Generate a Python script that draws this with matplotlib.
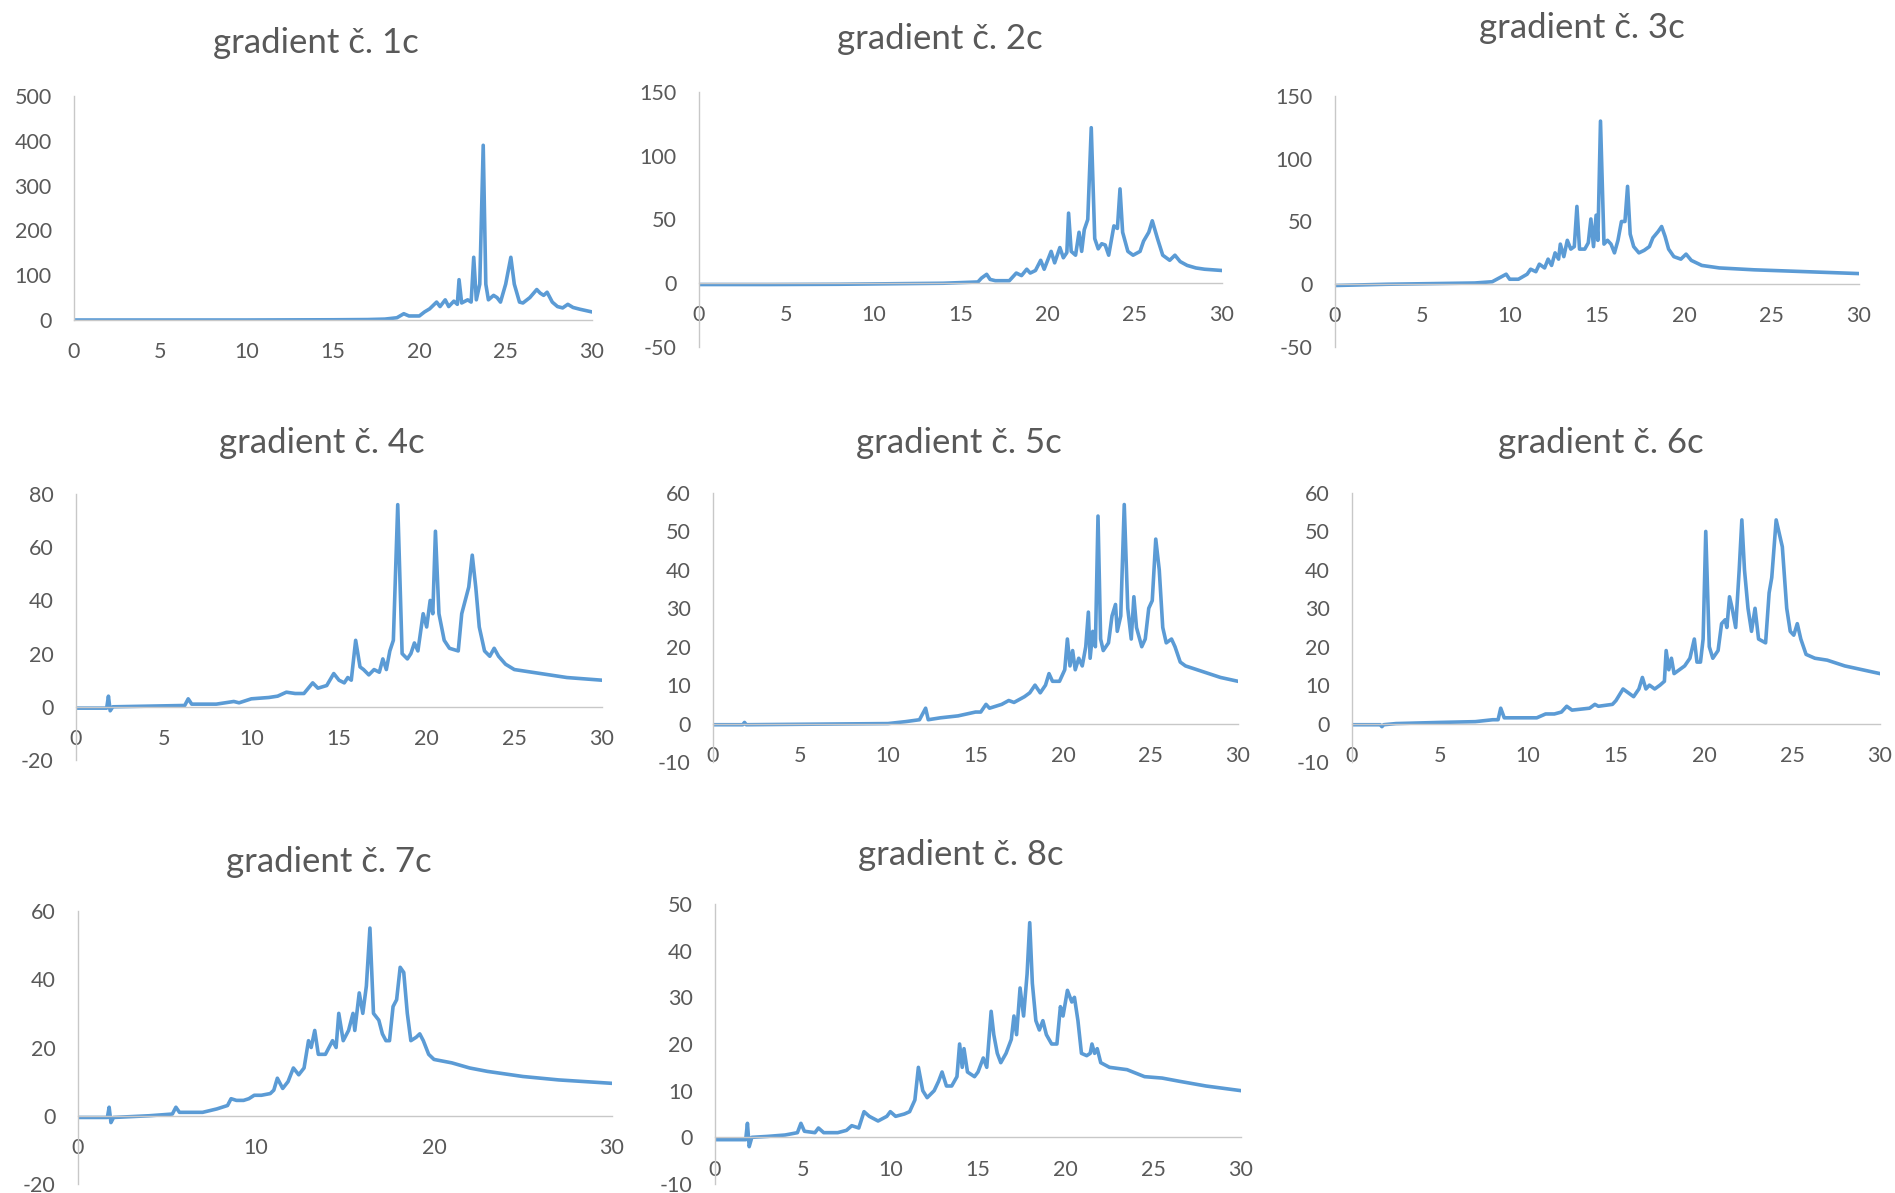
import matplotlib
matplotlib.use("Agg")
import matplotlib.pyplot as plt

plt.rcParams['font.family'] = ['Lato', 'DejaVu Sans']
plt.rcParams['axes.unicode_minus'] = False

# gradient 1c
x1 = [0, 5, 10, 15, 17, 18, 18.7, 19.1, 19.4, 20.0, 20.3, 20.6, 21.0, 21.2, 21.5, 21.7, 22.0, 22.2, 22.3,
      22.45, 22.8, 23.0, 23.15, 23.3, 23.5, 23.7, 23.85, 24.0, 24.3, 24.5, 24.7, 25.0, 25.3, 25.5, 25.8,
      26.0, 26.4, 26.8, 27.0, 27.2, 27.4, 27.7, 28.0, 28.3, 28.6, 28.9, 29.3, 30]
y1 = [0, 0, 0, 0.5, 1, 2, 5, 14, 9, 9, 18, 25, 40, 30, 45, 30, 42, 35, 90,
      38, 45, 40, 140, 45, 80, 390, 80, 45, 55, 50, 40, 80, 140, 80, 40,
      38, 50, 68, 60, 55, 62, 40, 30, 27, 35, 28, 24, 18]

# gradient 2c
x2 = [0, 4, 8, 14, 16, 16.2, 16.5, 16.7, 17, 17.8, 18.2, 18.5, 18.8, 19.0, 19.3, 19.6, 19.8, 20.2, 20.4,
      20.7, 20.9, 21.1, 21.2, 21.35, 21.6, 21.8, 21.95, 22.1, 22.3, 22.5, 22.7, 22.9, 23.1, 23.3, 23.5,
      23.8, 24.0, 24.15, 24.3, 24.6, 24.9, 25.3, 25.5, 25.8, 26.0, 26.3, 26.6, 27.0, 27.3, 27.6, 28.0,
      28.5, 29.0, 30]
y2 = [-1, -1, -0.8, 0, 1, 4, 7, 3, 2, 2, 8, 6, 11, 8, 10, 18, 11, 25, 16,
      28, 20, 24, 55, 25, 22, 40, 25, 42, 50, 122, 35, 27, 31, 30, 22,
      45, 43, 74, 40, 25, 22, 25, 33, 40, 49, 35, 22, 18, 22, 17, 14,
      12, 11, 10]

# gradient 3c
x3 = [0, 3, 8, 9, 9.8, 10, 10.5, 11, 11.2, 11.5, 11.7, 12.0, 12.2, 12.4, 12.6, 12.8, 12.9, 13.1, 13.3,
      13.5, 13.7, 13.85, 14.0, 14.3, 14.5, 14.65, 14.8, 14.95, 15.05, 15.2, 15.4, 15.6, 15.8, 16.0, 16.2,
      16.4, 16.6, 16.75, 16.9, 17.1, 17.4, 17.7, 18.0, 18.2, 18.5, 18.7, 18.9, 19.1, 19.4, 19.8, 20.1,
      20.4, 21, 22, 24, 27, 30]
y3 = [-1, 0, 1, 2, 8, 4, 4, 8, 12, 10, 16, 13, 20, 15, 25, 20, 32, 22, 35,
      28, 30, 62, 28, 28, 33, 52, 30, 55, 35, 130, 32, 35, 32, 25, 35,
      50, 50, 78, 40, 30, 25, 27, 30, 37, 42, 46, 38, 28, 22, 20, 24,
      19, 15, 13, 11.5, 10, 8.5]

# gradient 4c
x4 = [0, 1.75, 1.85, 1.95, 2.1, 6.2, 6.4, 6.6, 8, 9, 9.3, 10, 11, 11.5, 12, 12.5, 13, 13.5, 13.8, 14.3,
      14.7, 15, 15.3, 15.5, 15.7, 15.95, 16.2, 16.4, 16.7, 17.0, 17.3, 17.5, 17.7, 17.9, 18.1, 18.35,
      18.6, 18.9, 19.1, 19.3, 19.5, 19.8, 20.0, 20.2, 20.35, 20.5, 20.7, 21.0, 21.3, 21.8, 22.0, 22.2,
      22.4, 22.6, 22.8, 23.0, 23.3, 23.6, 23.85, 24.1, 24.5, 25, 26, 27, 28, 29, 30]
y4 = [-0.5, -0.5, 4, -1.5, 0, 0.5, 3, 1, 1, 2, 1.5, 3, 3.5, 4, 5.5, 5, 5, 9, 7, 8,
      12.5, 10, 9, 11, 10, 25, 15, 14, 12, 14, 13, 18, 14, 21, 25, 76,
      20, 18, 20, 24, 21, 35, 30, 40, 35, 66, 35, 25, 22, 21, 35, 40,
      45, 57, 45, 30, 21, 19, 22, 19, 16, 14, 13, 12, 11, 10.5, 10]

# gradient 5c
x5 = [0, 1.7, 1.8, 1.9, 10, 11, 11.8, 12.15, 12.3, 13.0, 14, 14.5, 15, 15.3, 15.6, 15.8, 16.5, 16.9, 17.2,
      17.8, 18.1, 18.4, 18.7, 19.0, 19.2, 19.4, 19.8, 20.1, 20.25, 20.4, 20.55, 20.7, 20.9, 21.1, 21.3,
      21.45, 21.55, 21.7, 21.85, 22.0, 22.15, 22.3, 22.6, 22.8, 23.0, 23.1, 23.3, 23.5, 23.7, 23.9, 24.05,
      24.2, 24.5, 24.7, 24.9, 25.1, 25.3, 25.5, 25.7, 25.9, 26.2, 26.4, 26.7, 27.0, 28, 29, 30]
y5 = [-0.3, -0.3, 0.3, -0.3, 0, 0.5, 1, 4, 1, 1.5, 2, 2.5, 3, 3, 5, 4, 5, 6, 5.5,
      7, 8, 10, 8, 10, 13, 11, 11, 14, 22, 15, 19, 14, 17, 15, 20,
      29, 17, 24, 20, 54, 22, 19, 21, 28, 31, 24, 28, 57, 30, 22, 33,
      25, 20, 22, 30, 32, 48, 40, 25, 21, 22, 20, 16, 15, 13.5, 12, 11]

# gradient 6c
x6 = [0, 1.6, 1.7, 1.8, 2.5, 5, 7, 8, 8.3, 8.45, 8.65, 9.5, 10.5, 11, 11.5, 11.9, 12.2, 12.5, 13.5, 13.8,
      14, 14.8, 15.0, 15.4, 15.7, 16.0, 16.3, 16.5, 16.7, 16.9, 17.2, 17.5, 17.75, 17.85, 18.0, 18.15,
      18.3, 18.6, 18.9, 19.2, 19.45, 19.6, 19.8, 19.95, 20.1, 20.3, 20.5, 20.8, 21.0, 21.2, 21.3, 21.45,
      21.6, 21.8, 22.0, 22.15, 22.3, 22.5, 22.7, 22.9, 23.1, 23.5, 23.7, 23.85, 24.0, 24.1, 24.3, 24.45,
      24.7, 24.9, 25.1, 25.3, 25.5, 25.8, 26.3, 27, 28, 29, 30]
y6 = [-0.3, -0.3, -0.8, -0.3, 0, 0.3, 0.5, 1, 1, 4, 1.5, 1.5, 1.5, 2.5, 2.5, 3, 4.5, 3.5, 4, 5,
      4.5, 5, 6, 9, 8, 7, 9, 12, 9, 10, 9, 10, 11, 19, 14, 17,
      13, 14, 15, 17, 22, 16, 16, 22, 50, 20, 17, 19, 26, 27, 25, 33,
      30, 25, 40, 53, 40, 30, 24, 30, 22, 21, 34, 38, 47, 53, 49, 46,
      30, 24, 23, 26, 22, 18, 17, 16.5, 15, 14, 13]

# gradient 7c
x7 = [0, 1.65, 1.75, 1.85, 2.0, 4, 5.3, 5.5, 5.7, 7, 7.8, 8.4, 8.6, 8.9, 9.3, 9.6, 9.9, 10.3, 10.8, 11.0,
      11.2, 11.5, 11.8, 12.1, 12.4, 12.7, 12.95, 13.1, 13.3, 13.5, 13.9, 14.1, 14.3, 14.5, 14.65, 14.9,
      15.2, 15.45, 15.55, 15.8, 16.0, 16.2, 16.4, 16.6, 16.9, 17.1, 17.3, 17.5, 17.7, 17.9, 18.1, 18.3,
      18.5, 18.7, 19.0, 19.2, 19.4, 19.7, 20.0, 21, 22, 23, 25, 27, 30]
y7 = [-0.5, -0.5, 2.5, -2, -0.5, 0, 0.5, 2.5, 1, 1, 2, 3, 5, 4.5, 4.5, 5, 6, 6, 6.5, 7.5,
      11, 8, 10, 14, 12, 14, 22, 20, 25, 18, 18, 20, 22, 20, 30, 22,
      25, 30, 25, 36, 30, 38, 55, 30, 28, 24, 22, 22, 32, 34, 43.5, 42,
      30, 22, 23, 24, 22, 18, 16.5, 15.5, 14, 13, 11.5, 10.5, 9.5]

# gradient 8c
x8 = [0, 1.75, 1.85, 1.95, 2.1, 3, 4, 4.7, 4.9, 5.1, 5.7, 5.9, 6.2, 7, 7.5, 7.8, 8.2, 8.5, 8.8, 9.3,
      9.8, 10.0, 10.3, 10.8, 11.1, 11.4, 11.6, 11.85, 12.1, 12.5, 12.75, 12.95, 13.2, 13.5, 13.8, 13.95,
      14.1, 14.2, 14.4, 14.8, 15.0, 15.3, 15.5, 15.75, 15.9, 16.1, 16.3, 16.6, 16.9, 17.05, 17.2, 17.4,
      17.6, 17.8, 17.95, 18.1, 18.3, 18.5, 18.7, 18.9, 19.2, 19.5, 19.7, 19.85, 20.1, 20.35, 20.5, 20.7,
      20.9, 21.2, 21.4, 21.5, 21.65, 21.8, 22.0, 22.5, 23.5, 24.5, 25.5, 26.5, 28, 30]
y8 = [-0.5, -0.5, 3, -2, 0, 0.2, 0.5, 1, 3, 1.3, 1, 2, 1, 1, 1.5, 2.5, 2, 5.5, 4.5, 3.5,
      4.5, 5.5, 4.5, 5, 5.5, 8, 15, 10, 8.5, 10, 12, 14, 11, 11, 13, 20,
      15, 19, 14, 13, 14, 17, 15, 27, 22, 18, 16, 18, 21, 26, 22, 32,
      26, 35, 46, 33, 25, 23, 25, 22, 20, 20, 28, 26, 31.5, 29, 30, 25,
      18, 17.5, 18, 20, 18, 19, 16, 15, 14.5, 13, 12.7, 12, 11, 10]

titles = ["gradient č. 1c", "gradient č. 2c", "gradient č. 3c", "gradient č. 4c",
          "gradient č. 5c", "gradient č. 6c", "gradient č. 7c", "gradient č. 8c"]
xs = [x1, x2, x3, x4, x5, x6, x7, x8]
ys = [y1, y2, y3, y4, y5, y6, y7, y8]
ylims = [(0, 500), (-50, 150), (-50, 150), (-20, 80), (-10, 60), (-10, 60), (-20, 60), (-10, 50)]
ysteps = [100, 50, 50, 20, 10, 10, 20, 10]
xsteps = [5, 5, 5, 5, 5, 5, 10, 5]

# pixel boxes of the plot areas: left, right (x = 0..30), top, bottom (ymax..ymin)
W, H = 1895, 1193
boxes = [(74, 592, 96, 320), (699, 1222, 92, 347), (1335, 1859, 96, 347),
         (76, 602, 494, 760), (713, 1238, 493, 762), (1352, 1880, 493, 762),
         (78, 612, 911, 1184), (715, 1241, 904, 1184)]
title_pos = [(316, 43), (940, 39), (1582, 28), (322, 443), (959, 443), (1601, 443),
             (329, 862), (961, 855)]

line_color = '#5B9BD5'
text_color = '#595959'
axis_color = '#C8C8C8'

fig = plt.figure(figsize=(W / 100, H / 100), dpi=100)

for i in range(8):
    l, r, t, b = boxes[i]
    ax = fig.add_axes([l / W, 1 - b / H, (r - l) / W, (b - t) / H])
    ax.plot(xs[i], ys[i], color=line_color, linewidth=2.6, solid_joinstyle='round')
    lo, hi = ylims[i]
    ax.set_xlim(0, 30)
    ax.set_ylim(lo, hi)
    ax.set_xticks(range(0, 31, xsteps[i]))
    ax.set_yticks(range(lo, hi + 1, ysteps[i]))
    for s in ['top', 'right']:
        ax.spines[s].set_visible(False)
    ax.spines['bottom'].set_position(('data', 0))
    ax.spines['left'].set_color(axis_color)
    ax.spines['bottom'].set_color(axis_color)
    ax.spines['left'].set_linewidth(1)
    ax.spines['bottom'].set_linewidth(1)
    ax.tick_params(axis='x', length=0, pad=16, labelsize=15.5, labelcolor=text_color)
    ax.tick_params(axis='y', length=0, pad=16, labelsize=15.5, labelcolor=text_color)
    ax.patch.set_alpha(0)
    fig.text(title_pos[i][0] / W, 1 - title_pos[i][1] / H, titles[i], ha='center', va='center',
             fontsize=25, color=text_color)

fig.savefig('out.png', dpi=100, facecolor='white')
